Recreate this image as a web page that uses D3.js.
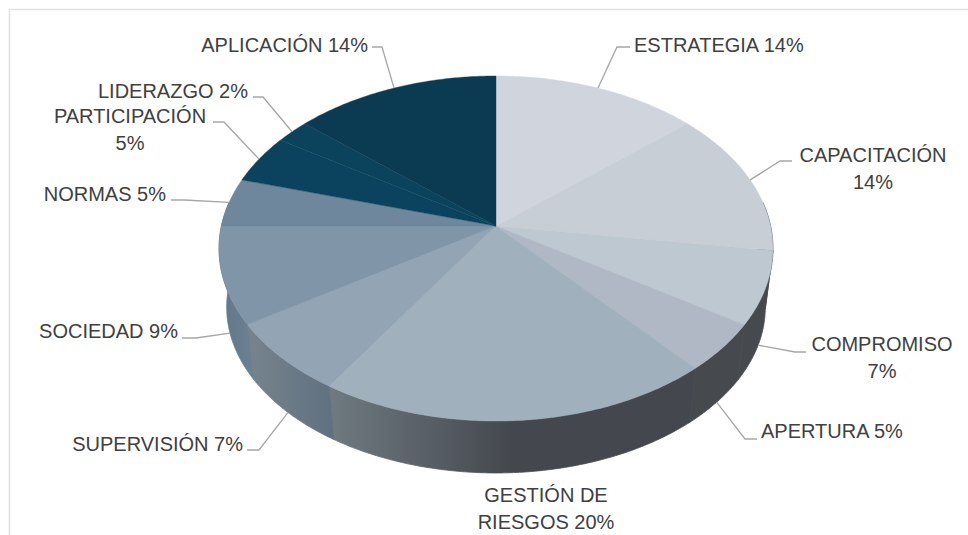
<!DOCTYPE html>
<html><head><meta charset="utf-8">
<script src="https://cdn.jsdelivr.net/npm/d3@7/dist/d3.min.js"></script>
<style>html,body{margin:0;padding:0;background:#fff}svg{display:block}</style>
</head><body><svg id="c" width="968" height="535"></svg>
<script>
const categories = ["ESTRATEGIA","CAPACITACIÓN","COMPROMISO","APERTURA","GESTIÓN DE RIESGOS","SUPERVISIÓN","SOCIEDAD","NORMAS","PARTICIPACIÓN","LIDERAZGO","APLICACIÓN"];
const values = [6,6,3,2,9,3,4,2,2,1,6];
const topColors = ["#d0d5dd","#c8ced6","#bec8d0","#b0b8c6","#a0b0bc","#93a4b4","#8095a7","#6e879c","#0b425d","#0b425c","#0a3b52"];
const wallColors = [["#45494e","#45494e"],["#45494e","#45494e"],["#46494e","#46494e"],["#46494e","#46494e"],
  ["#6f7a81","#44484e"],["#77848e","#5f7080"],["#62778a","#6c8092"],["#62778a","#62778a"],["#62778a","#62778a"],["#62778a","#62778a"],["#62778a","#62778a"]];
const total = d3.sum(values);
const pct = values.map(v => Math.round(v / total * 100) + "%");
const labelLines = [
  [`ESTRATEGIA ${pct[0]}`],[`CAPACITACIÓN`,pct[1]],[`COMPROMISO`,pct[2]],[`APERTURA ${pct[3]}`],
  [`GESTIÓN DE`,`RIESGOS ${pct[4]}`],[`SUPERVISIÓN ${pct[5]}`],[`SOCIEDAD ${pct[6]}`],[`NORMAS ${pct[7]}`],
  [`PARTICIPACIÓN`,pct[8]],[`LIDERAZGO ${pct[9]}`],[`APLICACIÓN ${pct[10]}`]];
// layout: label anchor [x, baseline, anchor], leader elbow [ex, ey, endx]; low = leader starts at lower rim
const layout = [
 {x:634,y:52,a:"start",e:[617,47,630]},
 {x:873,y:162,a:"middle",e:[780,161,792]},
 {x:882,y:351,a:"middle",e:[795,352,806],low:1},
 {x:761,y:438,a:"start",e:[745,439,757],low:1},
 {x:546,y:502,a:"middle"},
 {x:243,y:451,a:"end",e:[259,450,247],low:1},
 {x:178,y:338,a:"end",e:[196,338,182],low:1},
 {x:166,y:201,a:"end",e:[184,200,171]},
 {x:130,y:123,a:"middle",e:[224,122,213]},
 {x:248,y:98,a:"end",e:[263,97,253]},
 {x:368,y:52,a:"end",e:[382,47,372]}
];
const svg = d3.select("#c");
const defs = svg.append("defs");
const W=968,H=535;
svg.append("path").attr("d",`M9.5 ${H} V9.5 H${W}`).attr("fill","none").attr("stroke","#e2e2e2").attr("stroke-width",1.6);

const cx=496,k=0.1304;
const topRim={a:274.6,b:169.6,y0:226}, lowRim={a:267,b:163,y0:285.5};
const proj=(r,ang)=>{const u=Math.sin(ang),v=-Math.cos(ang),d=1-k*v;return [cx+r.a*u/d, r.y0+r.b*v/d];};
const arcs=d3.pie().sort(null).value(d=>d).startAngle(0).endAngle(2*Math.PI)(values);
const line=d3.line();
const sample=(a0,a1)=>{const n=Math.max(2,Math.ceil((a1-a0)/0.01));return d3.range(n+1).map(i=>a0+(a1-a0)*i/n);};
const visA=[82*Math.PI/180,278*Math.PI/180];

// walls
arcs.forEach((s,i)=>{
  const a0=Math.max(s.startAngle,visA[0]),a1=Math.min(s.endAngle,visA[1]);
  if(a1<=a0)return;
  const T=sample(a0,a1).map(a=>proj(topRim,a)),B=sample(a0,a1).map(a=>proj(lowRim,a)).reverse();
  const xs=T.concat(B).map(p=>p[0]);
  const id="w"+i,[c0,c1]=wallColors[i];
  const xL=d3.min(xs),xR=d3.max(xs);
  const g=defs.append("linearGradient").attr("id",id).attr("gradientUnits","userSpaceOnUse")
    .attr("x1",xL).attr("x2",i===4?xL+(xR-xL)*0.5:xR).attr("y1",0).attr("y2",0);
  g.append("stop").attr("offset",0).attr("stop-color",c0);
  g.append("stop").attr("offset",1).attr("stop-color",c1);
  svg.append("path").attr("d",line(T.concat(B))+"Z").attr("fill",`url(#${id})`).attr("stroke",`url(#${id})`).attr("stroke-width",0.8);
});
// top
arcs.forEach((s,i)=>{
  const pts=[[cx,topRim.y0]].concat(sample(s.startAngle,s.endAngle).map(a=>proj(topRim,a)));
  svg.append("path").attr("d",line(pts)+"Z").attr("fill",topColors[i]).attr("stroke",topColors[i]).attr("stroke-width",0.4);
});
// leaders + labels
arcs.forEach((s,i)=>{
  const L=layout[i],mid=(s.startAngle+s.endAngle)/2;
  if(L.e){
    const p=proj(L.low?lowRim:topRim,mid);
    svg.append("path").attr("d",line([p,[L.e[0],L.e[1]],[L.e[2],L.e[1]]])).attr("fill","none").attr("stroke","#a6a6a6").attr("stroke-width",1.3);
  }
  const t=svg.append("text").attr("text-anchor",L.a).attr("font-family","'Liberation Sans',Arial,sans-serif").attr("font-size",20).attr("fill","#404040");
  labelLines[i].forEach((ln,j)=>t.append("tspan").attr("x",L.x).attr("y",L.y+j*27).text(ln));
});
</script></body></html>
